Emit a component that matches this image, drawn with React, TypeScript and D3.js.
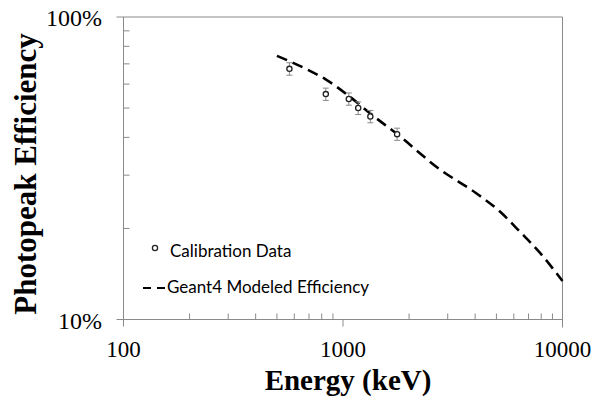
import React from 'react'
import * as d3 from 'd3'

// calibration points (keV, efficiency fraction, error)
const calEnergy = [570, 835, 1063, 1173, 1332, 1764]
const calEff = [0.674, 0.556, 0.536, 0.5, 0.469, 0.41]
const calErr = [0.032, 0.026, 0.025, 0.024, 0.022, 0.019]

// Geant4 modeled efficiency curve
const simEnergy = [500, 700, 840, 1075, 1340, 1780, 2770, 4000, 5200, 6400, 7900, 10000]
const simEff = [0.744, 0.666, 0.62, 0.545, 0.478, 0.408, 0.313, 0.263, 0.227, 0.195, 0.166, 0.134]

const xTickLabels = ['100', '1000', '10000']
const yTickLabels = ['10%', '100%']

const width = 595
const height = 404
const left = 123.5
const right = 562.5
const top = 17
const bottom = 319.5

const axisColor = '#8a8a8a'
const serif = '"Liberation Serif", "Times New Roman", serif'
const sans = 'Lato, "Open Sans", sans-serif'

function App() {
    const x = d3.scaleLog().domain([100, 10000]).range([left, right])
    const y = d3.scaleLog().domain([0.1, 1]).range([bottom, top])

    const xTicks = x.ticks()
    const yTicks = y.ticks()
    const isMajor = (v: number) => Math.abs(Math.log10(v) - Math.round(Math.log10(v))) < 1e-6

    const line = d3
        .line<number>()
        .x((_, i) => x(simEnergy[i]))
        .y(d => y(d))
        .curve(d3.curveMonotoneX)

    return (
        <svg width={width} height={height} style={{ position: 'absolute', left: 0, top: 0, background: '#fff' }}>
            {/* frame */}
            <line x1={116.5} x2={right} y1={top} y2={top} stroke={axisColor} />
            <line x1={right} x2={right} y1={top} y2={bottom + 8} stroke={axisColor} />
            <line x1={left} x2={left} y1={top} y2={bottom} stroke={axisColor} />
            <line x1={116.5} x2={right} y1={bottom} y2={bottom} stroke={axisColor} />

            {xTicks.map((t, i) =>
                isMajor(t) ? (
                    <line key={'xt' + i} x1={x(t)} x2={x(t)} y1={bottom} y2={bottom + 7} stroke={axisColor} />
                ) : (
                    <line key={'xt' + i} x1={x(t)} x2={x(t)} y1={bottom} y2={bottom - 6} stroke={axisColor} />
                )
            )}
            {yTicks.map((t, i) =>
                isMajor(t) ? null : (
                    <line key={'yt' + i} x1={left} x2={left + 6} y1={y(t)} y2={y(t)} stroke={axisColor} />
                )
            )}

            {[100, 1000, 10000].map((v, i) => (
                <text key={'xl' + i} x={x(v)} y={357} textAnchor="middle" fontFamily={serif} fontSize={23}>
                    {xTickLabels[i]}
                </text>
            ))}
            {[0.1, 1].map((v, i) => (
                <text key={'yl' + i} x={102} y={y(v) + 9} textAnchor="end" fontFamily={serif} fontSize={24}>
                    {yTickLabels[i]}
                </text>
            ))}

            <text x={348} y={390} textAnchor="middle" fontFamily={serif} fontWeight="bold" fontSize={29}>
                Energy (keV)
            </text>
            <text
                transform="translate(36,174) rotate(-90)"
                textAnchor="middle"
                fontFamily={serif}
                fontWeight="bold"
                fontSize={31}
            >
                Photopeak Efficiency
            </text>

            {/* model curve */}
            <path d={line(simEff) || ''} fill="none" stroke="#000" strokeWidth={2.6} strokeDasharray="11,6" />

            {/* calibration data */}
            {calEnergy.map((e, i) => {
                const cx = x(e)
                const y0 = y(calEff[i] - calErr[i])
                const y1 = y(calEff[i] + calErr[i])
                return (
                    <g key={'p' + i}>
                        <line x1={cx} x2={cx} y1={y0} y2={y1} stroke={axisColor} />
                        <line x1={cx - 3} x2={cx + 3} y1={y0} y2={y0} stroke={axisColor} />
                        <line x1={cx - 3} x2={cx + 3} y1={y1} y2={y1} stroke={axisColor} />
                        <circle cx={cx} cy={y(calEff[i])} r={2.6} fill="#fff" stroke="#222" strokeWidth={1.3} />
                    </g>
                )
            })}

            {/* legend */}
            <circle cx={155} cy={248} r={2.6} fill="#fff" stroke="#222" strokeWidth={1.3} />
            <text x={170} y={257} fontFamily={sans} fontSize={17}>
                Calibration Data
            </text>
            <line x1={143} x2={165} y1={288} y2={288} stroke="#000" strokeWidth={2} strokeDasharray="8,6" />
            <text x={167} y={293} fontFamily={sans} fontSize={17}>
                Geant4 Modeled Efficiency
            </text>
        </svg>
    )
}

export default App
